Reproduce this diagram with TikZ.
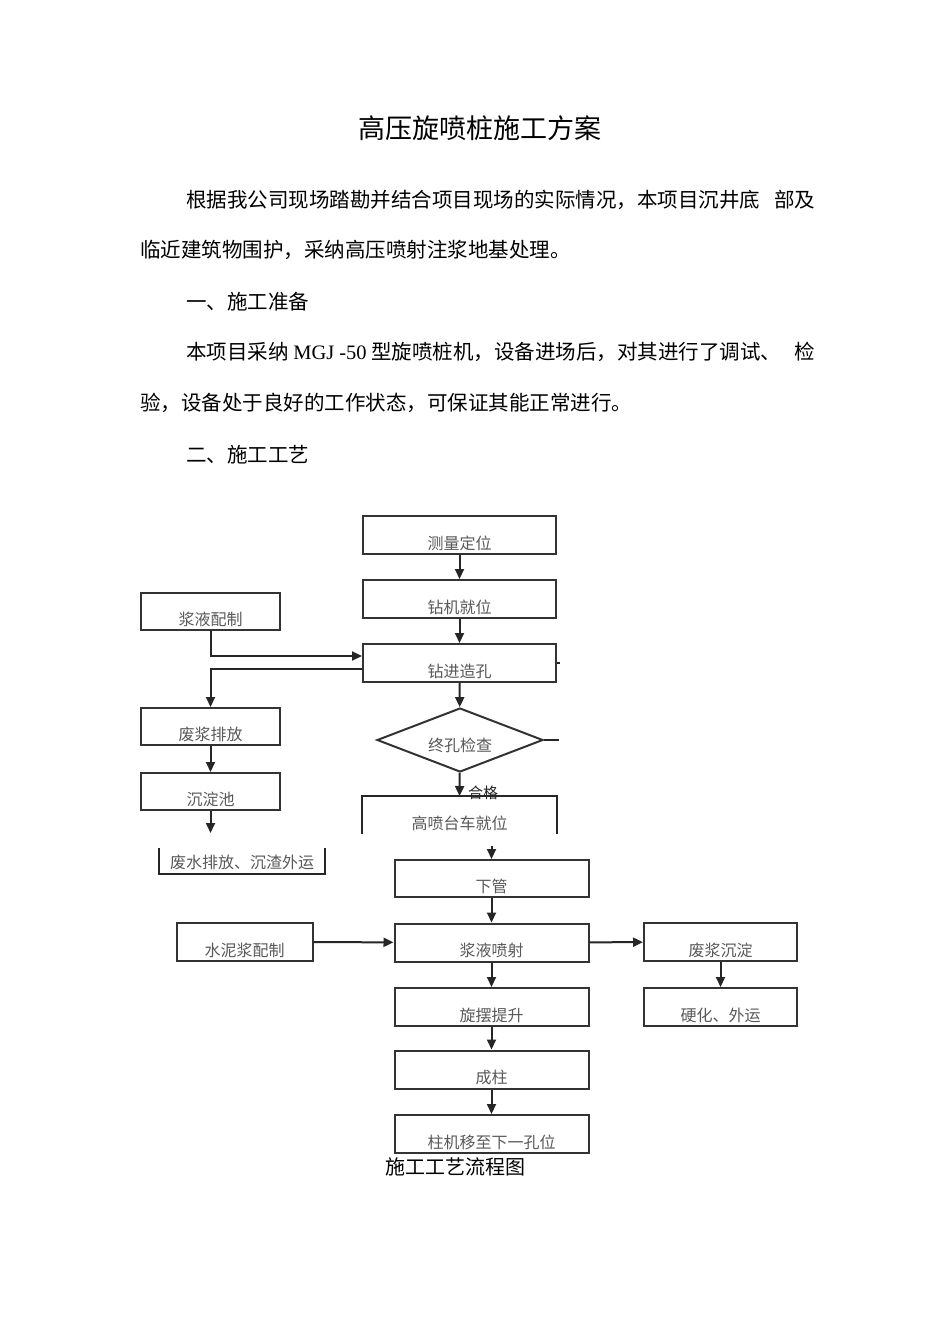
\documentclass[tikz,border=0pt]{standalone}
\usepackage{fontspec}
\setmainfont{Noto Sans CJK SC}
\newfontfamily\lat{Liberation Serif}
\usetikzlibrary{arrows.meta,shapes.geometric}
\tikzset{
  box/.style={draw=black!80, line width=2pt, minimum width=193pt, minimum height=38pt,
    inner sep=0pt, text height=30pt, text depth=2pt, font=\fontsize{16}{16}\selectfont, text=black!65},
  plain/.style={inner sep=0pt, font=\fontsize{20.5}{24}\selectfont, text=black},
  arr/.style={draw=black!85, line width=2pt, -{Triangle[length=10pt,width=9pt]}},
  ln/.style={draw=black!85, line width=2pt}
}
\begin{document}
\begin{tikzpicture}[x=1pt,y=-1pt]
\fill[white] (0,0) rectangle (950,1344);
\useasboundingbox (0,0) rectangle (950,1344);

% text body
\node[plain, font=\fontsize{27}{30}\selectfont] (title) at (480,128) {高压旋喷桩施工方案};
\node[plain, anchor=west] (l1) at (186,200) {\hbox to 629pt{根据我公司现场踏勘并结合项目现场的实际情况，本项目沉井底\hfill 部及}};
\node[plain, anchor=west] (l2) at (140,250) {临近建筑物围护，采纳高压喷射注浆地基处理。};
\node[plain, anchor=west] (l3) at (186,302) {一、施工准备};
\node[plain, anchor=west] (l4) at (186,352) {\hbox to 629pt{本项目采纳 {\lat MGJ -50} 型旋喷桩机，设备进场后，对其进行了调试、\hfill 检}};
\node[plain, anchor=west] (l5) at (140,403) {验，设备处于良好的工作状态，可保证其能正常进行。};
\node[plain, anchor=west] (l6) at (186,455) {二、施工工艺};

% upper flowchart
\node[box] (n1) at (459.5,535) {测量定位};
\node[box] (n2) at (459.5,599) {钻机就位};
\node[box] (n3) at (459.5,663) {钻进造孔};
\node[box, minimum width=139pt, minimum height=37pt] (jy) at (210.5,611.5) {浆液配制};
\node[box, minimum width=139pt, minimum height=37pt] (fp) at (210.5,726.5) {废浆排放};
\node[box, minimum width=139pt, minimum height=37pt] (cd) at (210.5,791.5) {沉淀池};
\node[diamond, aspect=2.6, draw=black!80, line width=2pt, minimum width=166pt, minimum height=64pt,
  inner sep=0pt, text height=24pt, text depth=2pt, font=\fontsize{16}{16}\selectfont, text=black!65]
  (dia) at (460,740) {终孔检查};
\node[box, draw=none, minimum height=36pt] (gp) at (459.5,815) {高喷台车就位};
\draw[ln] (gp.south west) -- (gp.north west) -- (gp.north east) -- (gp.south east);
\node[box, draw=none, minimum width=164pt, minimum height=24pt, text height=16pt, text depth=2pt] (fs) at (242,861) {废水排放、沉渣外运};
\draw[ln, line width=1.5pt] (fs.north west) -- (fs.south west) -- (fs.south east) -- (fs.north east);

\draw[arr] (n1) -- (n2);
\draw[arr] (n2) -- (n3);
\draw[arr] (n3) -- (dia);
\draw[arr] (dia) -- (gp.north);
\node[inner sep=0pt, font=\fontsize{15}{15}\selectfont, text=black!85] (hg) at (483,793) {合格};
\draw[arr] (jy.south) |- ([yshift=7pt]n3.west);
\draw[arr] ([yshift=-6pt]n3.west) -| (fp.north);
\draw[arr] (fp) -- (cd);
\coordinate (c1) at (210.5,833);
\draw[arr] (cd.south) -- (c1);
\draw[ln, line width=1.2pt] (n3.east) -- ++(3,0);
\draw[ln, line width=1.5pt] (dia.east) -- ++(15,0);

% lower flowchart
\node[box, minimum width=194pt, minimum height=37pt] (xg) at (491.5,878.5) {下管};
\node[box, minimum width=194pt] (pj) at (491.5,942.5) {浆液喷射};
\node[box, minimum width=136pt] (sn) at (244.5,942) {水泥浆配制};
\node[box, minimum width=153pt] (fc) at (720.5,942) {废浆沉淀};
\node[box, minimum width=153pt] (yh) at (720.5,1007) {硬化、外运};
\node[box, minimum width=194pt] (xb) at (491.5,1007) {旋摆提升};
\node[box, minimum width=194pt] (cz) at (491.5,1069.5) {成柱};
\node[box, minimum width=194pt] (zj) at (491.5,1134) {柱机移至下一孔位};
\node[plain, anchor=west, font=\fontsize{20}{24}\selectfont] (cap) at (385,1167) {施工工艺流程图};

\coordinate (x0) at (491.5,846);
\draw[arr] (x0) -- (xg.north);
\draw[arr] (xg) -- (pj);
\draw[arr] (sn) -- (pj);
\draw[arr] (pj) -- (fc);
\draw[arr] (fc) -- (yh);
\draw[arr] (pj) -- (xb);
\draw[arr] (xb) -- (cz);
\draw[arr] (cz) -- (zj);
\end{tikzpicture}
\end{document}
